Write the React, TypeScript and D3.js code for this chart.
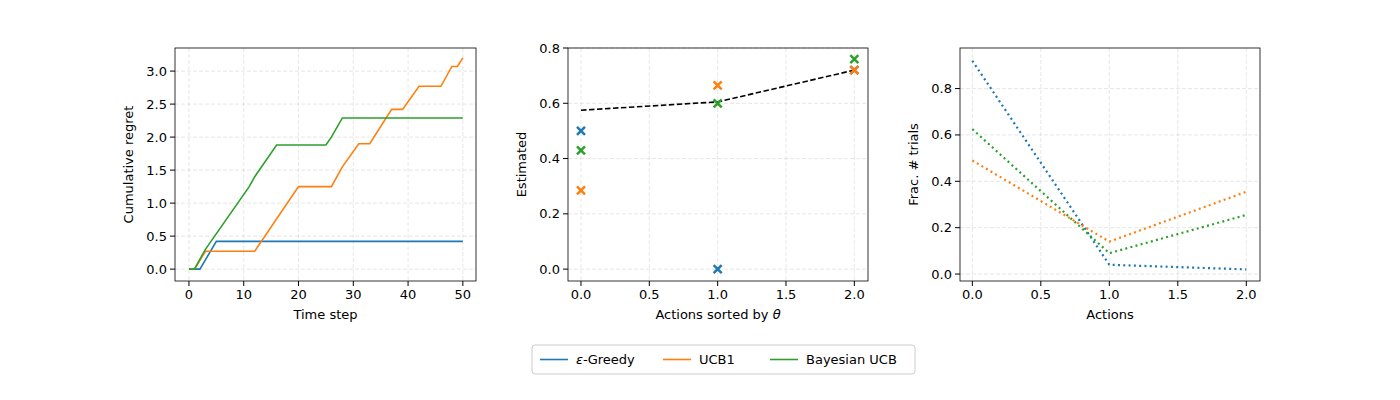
import * as React from "react";
import * as d3 from "d3";

const names = ["ε-Greedy", "UCB1", "Bayesian UCB"];
const colors = ["#1f77b4", "#ff7f0e", "#2ca02c"];

// cumulative regret, [step, value] breakpoints
const regretGreedy = [[0, 0], [2, 0], [5, 0.42], [50, 0.42]];
const regretUcb1 = [[0, 0], [1, 0], [3, 0.27], [12, 0.27], [20, 1.25], [26, 1.25], [28, 1.55], [31, 1.9], [33, 1.9], [37, 2.42], [39, 2.42], [42, 2.77], [46, 2.77], [48, 3.07], [49, 3.07], [50, 3.2]];
const regretBayes = [[0, 0], [1, 0], [3, 0.3], [11, 1.25], [12, 1.4], [16, 1.88], [25, 1.88], [26, 2.0], [28, 2.29], [50, 2.29]];
const regrets = [regretGreedy, regretUcb1, regretBayes];

const actions = [0, 1, 2];
const trueTheta = [0.575, 0.605, 0.72];
const estGreedy = [0.5, 0.0, 0.72];
const estUcb1 = [0.285, 0.665, 0.72];
const estBayes = [0.43, 0.6, 0.76];
const estimates = [estGreedy, estUcb1, estBayes];

const fracGreedy = [0.92, 0.04, 0.02];
const fracUcb1 = [0.49, 0.14, 0.355];
const fracBayes = [0.625, 0.09, 0.255];
const fracs = [fracGreedy, fracUcb1, fracBayes];

const Panel = ({ x0, x1, xd, yd, xt, yt, xfmt, yfmt, xlabel, ylabel, children }) => {
  const top = 48, bot = 281;
  const x = d3.scaleLinear().domain(xd).range([x0, x1]);
  const y = d3.scaleLinear().domain(yd).range([bot, top]);
  return (
    <g>
      {xt.map((t) => (
        <line key={"gx" + t} x1={x(t)} x2={x(t)} y1={top} y2={bot} stroke="#b0b0b0" strokeOpacity={0.3} strokeDasharray="4,2" />
      ))}
      {yt.map((t) => (
        <line key={"gy" + t} x1={x0} x2={x1} y1={y(t)} y2={y(t)} stroke="#b0b0b0" strokeOpacity={0.3} strokeDasharray="4,2" />
      ))}
      {children(x, y)}
      <rect x={x0} y={top} width={x1 - x0} height={bot - top} fill="none" stroke="#000" strokeWidth={0.8} />
      {xt.map((t) => (
        <g key={"tx" + t}>
          <line x1={x(t)} x2={x(t)} y1={bot} y2={bot + 5} stroke="#000" />
          <text x={x(t)} y={bot + 18} textAnchor="middle" fontSize={13}>{xfmt(t)}</text>
        </g>
      ))}
      {yt.map((t) => (
        <g key={"ty" + t}>
          <line x1={x0 - 5} x2={x0} y1={y(t)} y2={y(t)} stroke="#000" />
          <text x={x0 - 8} y={y(t) + 4.5} textAnchor="end" fontSize={13}>{yfmt(t)}</text>
        </g>
      ))}
      <text x={(x0 + x1) / 2} y={bot + 38} textAnchor="middle" fontSize={13}>{xlabel}</text>
      <text transform={`translate(${x0 - 42},${(top + bot) / 2}) rotate(-90)`} textAnchor="middle" fontSize={13}>{ylabel}</text>
    </g>
  );
};

const Cross = ({ cx, cy, color }) => (
  <path d={`M${cx - 4},${cy - 4}L${cx + 4},${cy + 4}M${cx - 4},${cy + 4}L${cx + 4},${cy - 4}`} stroke={color} strokeWidth={2.5} />
);

export default function App() {
  const f1 = (v) => v.toFixed(1);
  const line = (x, y) => d3.line().x((d) => x(d[0])).y((d) => y(d[1]));
  return (
    <svg width={1400} height={400} style={{ position: "absolute", left: 0, top: 0, fontFamily: "DejaVu Sans" }}>
      <rect width={1400} height={400} fill="#fff" />
      <Panel x0={175} x1={476} xd={[-2.55, 52.4]} yd={[-0.18, 3.35]} xt={[0, 10, 20, 30, 40, 50]} yt={[0, 0.5, 1, 1.5, 2, 2.5, 3]}
        xfmt={(v) => String(v)} yfmt={f1} xlabel="Time step" ylabel="Cumulative regret">
        {(x, y) => regrets.map((r, i) => (
          <path key={i} d={line(x, y)(r)} fill="none" stroke={colors[i]} strokeWidth={1.6} />
        ))}
      </Panel>
      <Panel x0={568} x1={868} xd={[-0.095, 2.1]} yd={[-0.043, 0.8]} xt={[0, 0.5, 1, 1.5, 2]} yt={[0, 0.2, 0.4, 0.6, 0.8]}
        xfmt={f1} yfmt={f1} xlabel={<>Actions sorted by <tspan fontStyle="italic">θ</tspan></>} ylabel="Estimated">
        {(x, y) => (
          <g>
            <path d={line(x, y)(actions.map((a) => [a, trueTheta[a]]))} fill="none" stroke="#000" strokeWidth={1.6} strokeDasharray="5.5,2.5" />
            {estimates.map((e, i) => actions.map((a) => (
              <Cross key={i + "-" + a} cx={x(a)} cy={y(e[a])} color={colors[i]} />
            )))}
          </g>
        )}
      </Panel>
      <Panel x0={960} x1={1260} xd={[-0.09, 2.1]} yd={[-0.03, 0.975]} xt={[0, 0.5, 1, 1.5, 2]} yt={[0, 0.2, 0.4, 0.6, 0.8]}
        xfmt={f1} yfmt={f1} xlabel="Actions" ylabel="Frac. # trials">
        {(x, y) => fracs.map((fv, i) => (
          <path key={i} d={line(x, y)(actions.map((a) => [a, fv[a]]))} fill="none" stroke={colors[i]} strokeWidth={2.2} strokeDasharray="2,3.3" />
        ))}
      </Panel>
      <g>
        <rect x={532} y={345} width={383} height={29} rx={3} fill="#fff" stroke="#ccc" />
        {names.map((n, i) => {
          const lx = [540, 663, 770][i];
          return (
            <g key={n}>
              <line x1={lx} x2={lx + 28} y1={359.5} y2={359.5} stroke={colors[i]} strokeWidth={1.6} />
              <text x={lx + 36} y={364} fontSize={13}>
                {i === 0 ? (<><tspan fontStyle="italic">ε</tspan>-Greedy</>) : n}
              </text>
            </g>
          );
        })}
      </g>
    </svg>
  );
}
